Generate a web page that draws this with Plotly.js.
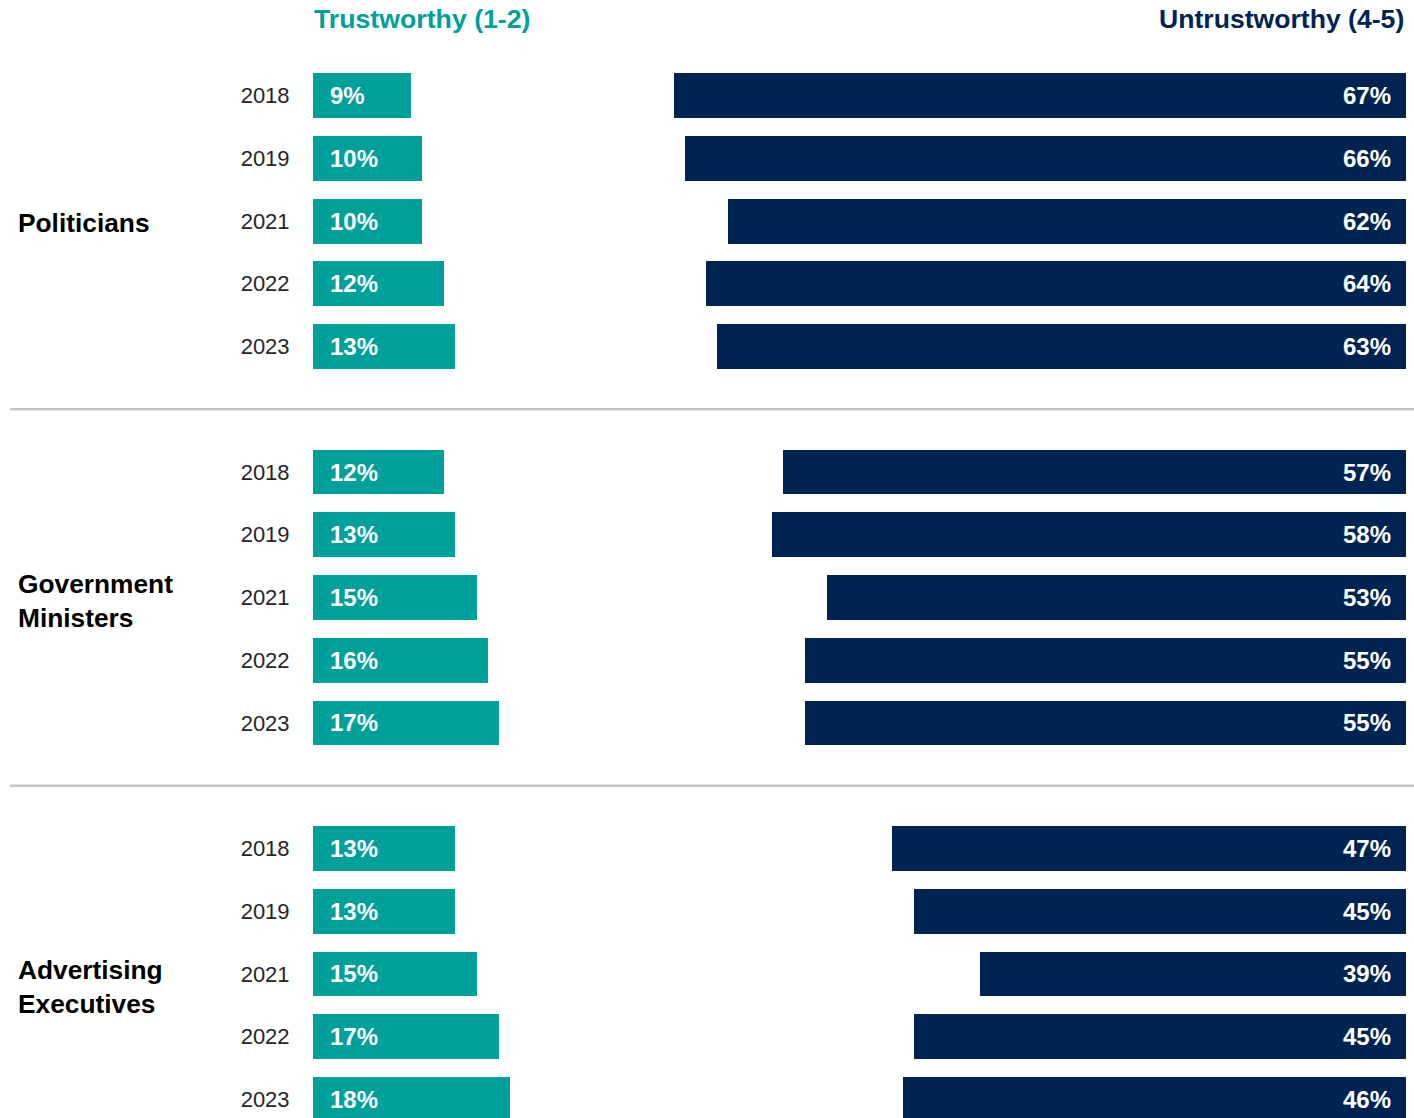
<!DOCTYPE html>
<html>
<head>
<meta charset="utf-8">
<script src="https://cdn.plot.ly/plotly-3.0.1.min.js"></script>
<style>html,body{margin:0;padding:0;background:#fff;}#chart{width:1414px;height:1118px;}</style>
</head>
<body>
<div id="chart"></div>
<script>
// ---- DATA ----
const groups = ["Politicians", "Government<br>Ministers", "Advertising<br>Executives"];
const years = ["2018", "2019", "2021", "2022", "2023"];
const trustPolit = [9, 10, 10, 12, 13];
const untrustPolit = [67, 66, 62, 64, 63];
const trustMin = [12, 13, 15, 16, 17];
const untrustMin = [57, 58, 53, 55, 55];
const trustAdv = [13, 13, 15, 17, 18];
const untrustAdv = [47, 45, 39, 45, 46];
const headerTrust = "Trustworthy (1-2)";
const headerUntrust = "Untrustworthy (4-5)";

// ---- BUILD ----
const trustGroups = [trustPolit, trustMin, trustAdv];
const untrustGroups = [untrustPolit, untrustMin, untrustAdv];
const rowY = [], rowYear = [], trust = [], untrust = [];
trustGroups.forEach((g, gi) => {
  g.forEach((v, i) => {
    rowY.push(gi * 6 + i);
    rowYear.push(years[i]);
    trust.push(v);
    untrust.push(untrustGroups[gi][i]);
  });
});
const middle = trust.map((t, i) => 100 - t - untrust[i]);

const TEAL = "#00A09A", NAVY = "#002452";
const FONT = "Liberation Sans, Arial, sans-serif";

const traces = [
  {type: "bar", orientation: "h", y: rowY, x: trust, marker: {color: TEAL}, hoverinfo: "skip"},
  {type: "bar", orientation: "h", y: rowY, x: middle, marker: {color: "rgba(0,0,0,0)"}, hoverinfo: "skip"},
  {type: "bar", orientation: "h", y: rowY, x: untrust, marker: {color: NAVY}, hoverinfo: "skip"}
];

const annotations = [];
rowY.forEach((y, i) => {
  annotations.push({x: 0, y: y, xref: "x", yref: "y", text: trust[i] + "%", showarrow: false,
    xanchor: "left", yanchor: "middle", xshift: 15, font: {family: FONT, size: 24, color: "#fff", weight: "bold"}});
  annotations.push({x: 100, y: y, xref: "x", yref: "y", text: untrust[i] + "%", showarrow: false,
    xanchor: "right", yanchor: "middle", xshift: -13, font: {family: FONT, size: 24, color: "#fff", weight: "bold"}});
});
const groupY = [2.03, 8.06, 14.2];
groups.forEach((g, gi) => {
  annotations.push({x: 0, y: groupY[gi], xref: "paper", yref: "y", text: g, showarrow: false, align: "left",
    xanchor: "left", yanchor: "middle", xshift: -297, font: {family: FONT, size: 26.3, color: "#000", weight: "bold"}});
});
annotations.push({x: 0, y: 1, xref: "paper", yref: "paper", text: headerTrust, showarrow: false,
  xanchor: "left", yanchor: "middle", xshift: -1, yshift: -19, font: {family: FONT, size: 26.7, color: TEAL, weight: "bold"}});
annotations.push({x: 1, y: 1, xref: "paper", yref: "paper", text: headerUntrust, showarrow: false,
  xanchor: "right", yanchor: "middle", xshift: 0, yshift: -19, font: {family: FONT, size: 26.6, color: NAVY, weight: "bold"}});

const shapes = [5, 11].map(y => ({type: "line", xref: "paper", yref: "y",
  x0: -303 / 1093, x1: 1 + 8 / 1093, y0: y, y1: y, line: {color: "#c6c6c6", width: 2.5}}));

const layout = {
  width: 1414, height: 1118,
  margin: {l: 313, r: 8, t: 0, b: 0, pad: 0},
  paper_bgcolor: "#fff", plot_bgcolor: "#fff",
  barmode: "stack", bargap: 0.283,
  showlegend: false,
  xaxis: {range: [0, 100], visible: false, fixedrange: true},
  yaxis: {range: [16.295, -1.522], autorange: false, tickvals: rowY, ticktext: rowYear,
    showgrid: false, zeroline: false, showline: false, ticks: "outside", ticklen: 18,
    tickcolor: "rgba(0,0,0,0)", tickfont: {family: FONT, size: 22, color: "#262626"}, fixedrange: true},
  annotations: annotations,
  shapes: shapes,
  font: {family: FONT}
};

Plotly.newPlot("chart", traces, layout, {staticPlot: true, displayModeBar: false});
</script>
</body>
</html>
